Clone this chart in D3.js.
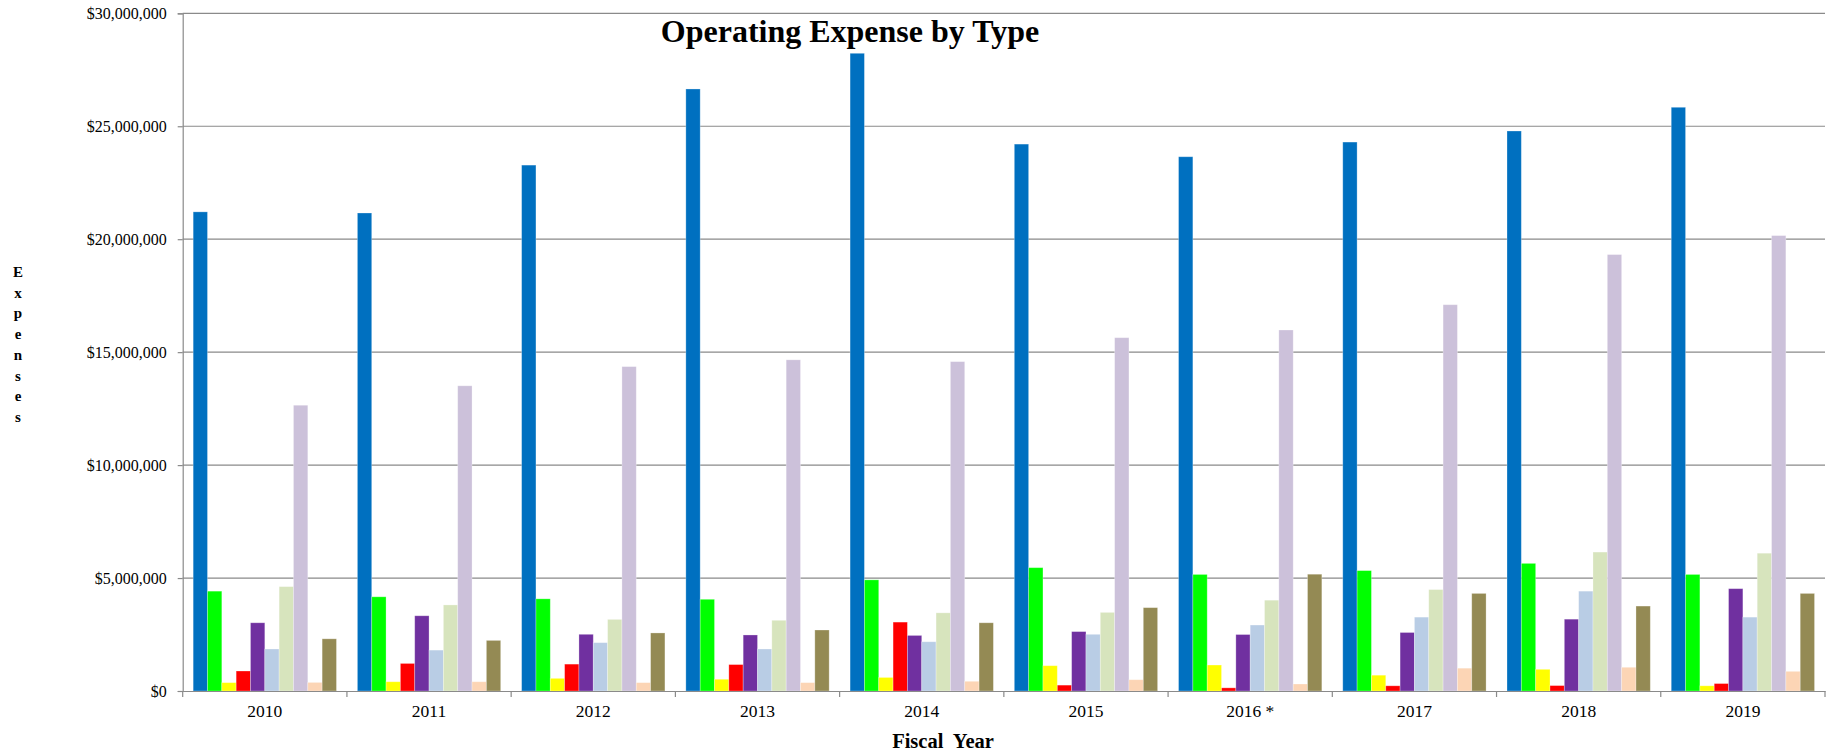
<!DOCTYPE html>
<html>
<head>
<meta charset="utf-8">
<script src="https://cdn.jsdelivr.net/npm/d3@7"></script>
<style>
  html, body { margin: 0; padding: 0; background: #fff; }
  svg { display: block; font-family: "Liberation Serif", "Times New Roman", serif; }
</style>
</head>
<body>
<svg id="chart" width="1837" height="753"></svg>
<script>
// ---- data ----
const years = ["2010", "2011", "2012", "2013", "2014", "2015", "2016 *", "2017", "2018", "2019"];
const seriesNames = ["Type 1", "Type 2", "Type 3", "Type 4", "Type 5", "Type 6", "Type 7", "Type 8", "Type 9", "Type 10"];
const type1 = [21210000, 21160000, 23280000, 26650000, 28230000, 24210000, 23650000, 24300000, 24790000, 25840000];
const type2 = [4420000, 4170000, 4080000, 4060000, 4920000, 5460000, 5160000, 5330000, 5650000, 5160000];
const type3 = [370000, 410000, 560000, 520000, 600000, 1120000, 1150000, 700000, 960000, 230000];
const type4 = [885000, 1220000, 1190000, 1170000, 3050000, 260000, 140000, 230000, 240000, 330000];
const type5 = [3020000, 3330000, 2510000, 2480000, 2460000, 2630000, 2500000, 2590000, 3180000, 4530000];
const type6 = [1860000, 1810000, 2140000, 1860000, 2180000, 2510000, 2920000, 3270000, 4420000, 3270000];
const type7 = [4620000, 3810000, 3170000, 3130000, 3460000, 3480000, 4020000, 4490000, 6150000, 6100000];
const type8 = [12650000, 13510000, 14360000, 14660000, 14580000, 15640000, 15980000, 17100000, 19320000, 20160000];
const type9 = [380000, 410000, 370000, 370000, 430000, 500000, 310000, 1010000, 1050000, 870000];
const type10 = [2310000, 2240000, 2570000, 2700000, 3020000, 3690000, 5170000, 4320000, 3760000, 4320000];
const yTicks = [0, 5000000, 10000000, 15000000, 20000000, 25000000, 30000000];
const colors = ["#0070C0", "#00FF00", "#FFFF00", "#FF0000", "#7030A0", "#B9CDE5", "#D7E4BD", "#CCC1DA", "#FCD5B5", "#948A54"];

const seriesValues = [type1, type2, type3, type4, type5, type6, type7, type8, type9, type10];

// ---- layout ----
const svg = d3.select("#chart");
const plotLeft = 182.7, plotRight = 1825, plotTop = 13.3, plotBottom = 691;

const x0 = d3.scaleBand().domain(years).range([plotLeft, plotRight]).paddingInner(0).paddingOuter(0);
const x1 = d3.scaleBand().domain(seriesNames).range([0, x0.bandwidth()]).paddingInner(0).paddingOuter(0.73);
const y = d3.scaleLinear().domain([0, 30000000]).range([plotBottom, plotTop]);
const fmt = v => "$" + d3.format(",")(v);

// gridlines
svg.append("g")
  .selectAll("line")
  .data(yTicks.filter(d => d > 0))
  .join("line")
  .attr("x1", plotLeft).attr("x2", plotRight)
  .attr("y1", d => y(d)).attr("y2", d => y(d))
  .attr("stroke", "#8a8a8a").attr("stroke-width", 1.2);

// bars
const groups = svg.append("g")
  .selectAll("g")
  .data(years.map((yr, i) => ({ yr, vals: seriesValues.map((s, k) => ({ name: seriesNames[k], v: s[i], c: colors[k] })) })))
  .join("g")
  .attr("transform", d => `translate(${x0(d.yr)},0)`);

groups.selectAll("rect")
  .data(d => d.vals)
  .join("rect")
  .attr("x", d => x1(d.name))
  .attr("width", x1.bandwidth())
  .attr("y", d => y(d.v))
  .attr("height", d => y(0) - y(d.v))
  .attr("fill", d => d.c)
  .attr("stroke", "rgba(255,255,255,0.35)")
  .attr("stroke-width", 0.8);

// y axis
const yAxis = d3.axisLeft(y).tickValues(yTicks).tickFormat(fmt).tickSize(5).tickPadding(11);
const gy = svg.append("g").attr("transform", `translate(${plotLeft},0)`).call(yAxis);
gy.select(".domain").attr("stroke", "#8a8a8a").attr("stroke-width", 1.2);
gy.selectAll(".tick line").attr("stroke", "#8a8a8a").attr("stroke-width", 1.2);
gy.selectAll(".tick text")
  .attr("font-family", "'Liberation Serif', serif")
  .attr("font-size", 16).attr("fill", "#000");

// x axis
const xAxis = d3.axisBottom(x0).tickSize(0).tickPadding(0);
const gx = svg.append("g").attr("transform", `translate(0,${plotBottom})`).call(xAxis);
gx.select(".domain").attr("stroke", "#8a8a8a").attr("stroke-width", 1.2);
gx.selectAll(".tick text")
  .attr("font-family", "'Liberation Serif', serif")
  .attr("font-size", 17.5).attr("fill", "#000")
  .attr("dy", 0).attr("y", 26);
// boundary ticks between categories
gx.append("g").selectAll("line")
  .data(years.map(d => x0(d)).concat([x0(years[years.length - 1]) + x0.bandwidth()]))
  .join("line")
  .attr("x1", d => d).attr("x2", d => d)
  .attr("y1", 0).attr("y2", 6)
  .attr("stroke", "#8a8a8a").attr("stroke-width", 1.2);

// title
svg.append("text")
  .attr("x", 850).attr("y", 41.5)
  .attr("text-anchor", "middle")
  .attr("font-family", "'Liberation Serif', serif")
  .attr("font-weight", "bold").attr("font-size", 32)
  .text("Operating Expense by Type");

// x axis title
svg.append("text")
  .attr("x", 943).attr("y", 748)
  .attr("text-anchor", "middle")
  .attr("font-family", "'Liberation Serif', serif")
  .attr("font-weight", "bold").attr("font-size", 20.5)
  .attr("xml:space", "preserve")
  .style("white-space", "pre")
  .text("Fiscal  Year");

// y axis title (stacked letters)
const yt = svg.append("text")
  .attr("text-anchor", "middle")
  .attr("font-family", "'Liberation Serif', serif")
  .attr("font-weight", "bold").attr("font-size", 15);
"Expenses".split("").forEach((ch, i) => {
  yt.append("tspan").attr("x", 18).attr("y", 277 + i * 20.7).text(ch);
});
</script>
</body>
</html>
